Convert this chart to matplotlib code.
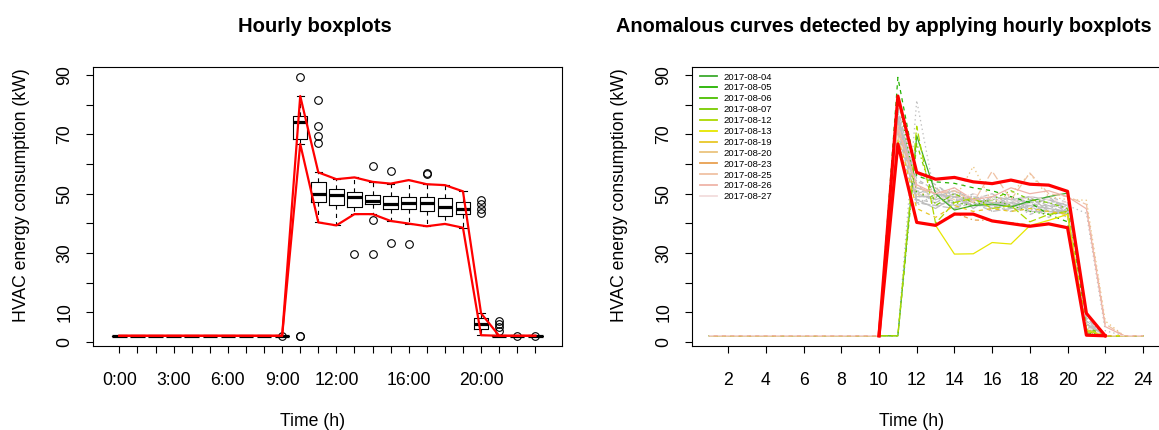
import matplotlib
matplotlib.use("Agg")
import matplotlib.pyplot as plt
from matplotlib.lines import Line2D

plt.rcParams['font.family'] = ['Liberation Sans', 'DejaVu Sans']
plt.rcParams['lines.scale_dashes'] = False

# hourly boxplot statistics of HVAC consumption (kW), hours 0..23
hours = list(range(24))
label_hours = [0, 3, 6, 9, 12, 16, 20]
hour_labels = ["0:00", "3:00", "6:00", "9:00", "12:00", "16:00", "20:00"]

q1 = [2, 2, 2, 2, 2, 2, 2, 2, 2, 2, 68.5, 47.3, 46.3, 45.4, 46.4, 44.9, 44.8, 44.0, 42.5, 43.1, 4.2, 2, 2, 2]
med = [2, 2, 2, 2, 2, 2, 2, 2, 2, 2, 74.1, 49.9, 49.6, 48.8, 47.5, 46.4, 46.9, 46.8, 45.6, 44.7, 6.0, 2, 2, 2]
q3 = [2, 2, 2, 2, 2, 2, 2, 2, 2, 2, 76.4, 54.1, 51.6, 50.5, 49.5, 49.3, 48.8, 48.9, 48.7, 47.2, 7.9, 2, 2, 2]
whislo = [2, 2, 2, 2, 2, 2, 2, 2, 2, 2, 66.8, 40.3, 39.3, 43.1, 43.1, 40.8, 39.9, 39.0, 39.8, 38.5, 2.2, 2, 2, 2]
whishi = [2, 2, 2, 2, 2, 2, 2, 2, 2, 2, 83.0, 57.2, 54.9, 55.5, 54.0, 53.4, 54.6, 53.2, 52.9, 50.8, 9.6, 2, 2, 2]
outliers = [[], [], [], [], [], [], [], [], [], [2.0],
            [89.3, 2.0, 2.0], [81.5, 72.8, 69.6, 67.0], [], [29.6],
            [59.2, 41.1, 29.7], [57.6, 33.5], [33.0], [56.8, 57.0], [], [],
            [47.8, 46.4, 44.9, 43.4], [7.0, 6.0, 5.1, 3.7], [2.0], [2.0]]

# daily curves, hours 0..23
normal_days = [
    [2, 2, 2, 2, 2, 2, 2, 2, 2, 2, 76, 52, 50, 49, 48, 47, 47, 46, 45, 44, 6, 2, 2, 2],
    [2, 2, 2, 2, 2, 2, 2, 2, 2, 2, 72, 48, 47, 46, 47, 45, 46, 48, 49, 47, 7, 2, 2, 2],
    [2, 2, 2, 2, 2, 2, 2, 2, 2, 2, 2, 81.5, 48, 47, 49, 46, 48, 45, 44, 45, 5, 2, 2, 2],
    [2, 2, 2, 2, 2, 2, 2, 2, 2, 2, 78, 54, 52, 50, 49, 48, 49, 47, 43, 44, 8, 2, 2, 2],
    [2, 2, 2, 2, 2, 2, 2, 2, 2, 2, 74, 47, 46, 45, 47, 44, 45, 44, 46, 43, 4, 2, 2, 2],
    [2, 2, 2, 2, 2, 2, 2, 2, 2, 2, 71, 49, 49, 51, 48, 46, 47, 49, 48, 46, 6, 2, 2, 2],
    [2, 2, 2, 2, 2, 2, 2, 2, 2, 2, 75, 53, 48, 48, 46, 49, 45, 46, 42, 45, 9, 2, 2, 2],
    [2, 2, 2, 2, 2, 2, 2, 2, 2, 2, 68, 46, 50, 47, 49, 47, 44, 48, 47, 44, 5, 2, 2, 2],
    [2, 2, 2, 2, 2, 2, 2, 2, 2, 2, 77, 51, 47, 50, 47, 45, 48, 47, 45, 47, 7, 2, 2, 2],
    [2, 2, 2, 2, 2, 2, 2, 2, 2, 2, 73, 50, 52, 46, 48, 50, 46, 45, 49, 44, 4, 2, 2, 2],
    [2, 2, 2, 2, 2, 2, 2, 2, 2, 2, 70, 48, 45, 49, 46, 46, 49, 44, 44, 43, 6, 2, 2, 2],
    [2, 2, 2, 2, 2, 2, 2, 2, 2, 2, 76, 55, 51, 47, 50, 44, 47, 48, 46, 45, 8, 2, 2, 2],
    [2, 2, 2, 2, 2, 2, 2, 2, 2, 2, 74, 49, 49, 52, 47, 48, 45, 46, 47, 46, 5, 2, 2, 2],
    [2, 2, 2, 2, 2, 2, 2, 2, 2, 2, 72, 47, 46, 48, 49, 45, 47, 43, 45, 42, 7, 2, 2, 2],
    [2, 2, 2, 2, 2, 2, 2, 2, 2, 2, 79, 52, 50, 45, 48, 47, 46, 47, 48, 45, 6, 2, 2, 2],
    [2, 2, 2, 2, 2, 2, 2, 2, 2, 2, 75, 50, 48, 50, 45, 49, 48, 49, 44, 44, 9.6, 2, 2, 2],
    [2, 2, 2, 2, 2, 2, 2, 2, 2, 2, 67, 57, 53, 49, 47, 46, 44, 46, 46, 47, 4.5, 2, 2, 2],
    [2, 2, 2, 2, 2, 2, 2, 2, 2, 2, 73, 48, 47, 47, 48, 48, 47, 45, 43, 46, 43.4, 3.7, 2, 2],
    [2, 2, 2, 2, 2, 2, 2, 2, 2, 2, 76, 51, 50, 48, 46, 47, 46, 47, 47, 44, 5.5, 2, 2, 2],
]

anomaly_dates = ["2017-08-04", "2017-08-05", "2017-08-06", "2017-08-07",
                 "2017-08-12", "2017-08-13", "2017-08-19", "2017-08-20",
                 "2017-08-23", "2017-08-25", "2017-08-26", "2017-08-27"]
anomaly_days = [
    [2, 2, 2, 2, 2, 2, 2, 2, 2, 2, 2, 69.6, 50, 44.5, 46, 46.5, 45.5, 47.5, 49, 50.2, 4, 2, 2, 2],
    [2, 2, 2, 2, 2, 2, 2, 2, 2, 2, 89.3, 56, 54, 53.5, 52, 51, 49, 47, 43, 40.5, 3, 2, 2, 2],
    [2, 2, 2, 2, 2, 2, 2, 2, 2, 2, 83, 50, 49, 47, 46, 48, 46, 44, 43, 44, 3, 2, 2, 2],
    [2, 2, 2, 2, 2, 2, 2, 2, 2, 2, 2, 67, 46, 50, 47, 48, 51, 48, 47, 45, 5, 2, 2, 2],
    [2, 2, 2, 2, 2, 2, 2, 2, 2, 2, 2, 72.8, 40, 47, 48.5, 45, 46, 40.5, 43, 44, 3.5, 2, 2, 2],
    [2, 2, 2, 2, 2, 2, 2, 2, 2, 2, 68, 40.4, 39.3, 29.6, 29.7, 33.5, 33.0, 39.2, 41, 43, 4, 2, 2, 2],
    [2, 2, 2, 2, 2, 2, 2, 2, 2, 2, 70, 45, 42, 46, 44, 45, 44, 45, 44, 43, 4, 2, 2, 2],
    [2, 2, 2, 2, 2, 2, 2, 2, 2, 2, 71, 49, 52, 48, 59.2, 47, 50, 56.8, 49, 48, 47.8, 7.0, 2, 2],
    [2, 2, 2, 2, 2, 2, 2, 2, 2, 2, 66.8, 40.3, 39.5, 43.5, 41.1, 41, 40.2, 39.5, 40, 38.5, 3, 2, 2, 2],
    [2, 2, 2, 2, 2, 2, 2, 2, 2, 2, 73, 52, 50, 51, 47, 57.6, 48, 57.0, 50, 49, 46.4, 6.0, 2, 2],
    [2, 2, 2, 2, 2, 2, 2, 2, 2, 2, 72, 53, 50, 52, 48, 49, 52, 50, 51, 49, 44.9, 5.1, 2, 2],
    [2, 2, 2, 2, 2, 2, 2, 2, 2, 2, 70, 50, 49, 48, 50, 48, 47, 49, 48, 47, 5, 2, 2, 2],
]
anomaly_colors = ["#3DAA2E", "#24B300", "#4CBF00", "#7ACC00", "#ADD900", "#E6E600",
                  "#E8C727", "#EBC47E", "#E8A050", "#F0C2A4", "#EFB4A8", "#F2DCDC"]

# R-like line types: solid, dashed, dotted, dotdash, longdash
ltys = ['-', (0, (3, 3)), (0, (1, 2.2)), (0, (1, 2.2, 3, 2.2)), (0, (5.5, 2.2))]

W, H = 1159, 430
fig = plt.figure(figsize=(W / 100, H / 100), dpi=100)
ax1 = fig.add_axes([93 / W, 84 / H, 468.7 / W, 279 / H])
ax2 = fig.add_axes([692 / W, 84 / H, 468.3 / W, 279 / H])

# ---- left: hourly boxplots with whisker bands ----
pos = [h + 1 for h in hours]
stats = [dict(med=med[i], q1=q1[i], q3=q3[i], whislo=whislo[i], whishi=whishi[i],
              fliers=outliers[i]) for i in hours]
ax1.bxp(stats, positions=pos, widths=0.8, manage_ticks=False,
        boxprops=dict(color='black', lw=0.8),
        medianprops=dict(color='black', lw=2.3, solid_capstyle='butt'),
        whiskerprops=dict(color='black', lw=0.8, linestyle=(0, (3, 3))),
        capprops=dict(color='black', lw=0.8),
        flierprops=dict(marker='o', markerfacecolor='none', markeredgecolor='black',
                        markersize=5.5, markeredgewidth=0.8))
ax1.plot(pos, whishi, color='red', lw=1.6, zorder=5)
ax1.plot(pos, whislo, color='red', lw=1.6, zorder=5)
ax1.set_xlim(-0.46, 25.46)
ax1.set_xticks(pos, labels=[hour_labels[label_hours.index(h)] if h in label_hours else ''
                            for h in hours])

# ---- right: daily curves, thresholds only over the working hours ----
x = pos
for i, day in enumerate(normal_days):
    ax2.plot(x, day, color='#BEBEBE', lw=0.9, linestyle=ltys[i % 5])
handles = []
for i, day in enumerate(anomaly_days):
    ax2.plot(x, day, color=anomaly_colors[i], lw=0.9, linestyle=ltys[i % 5])
    handles.append(Line2D([], [], color=anomaly_colors[i], lw=1.3))
band = slice(9, 22)
ax2.plot(x[band], whishi[band], color='red', lw=2.3)
ax2.plot(x[band], whislo[band], color='red', lw=2.3)
ax2.set_xlim(0.08, 24.92)
ax2.set_xticks([2, 4, 6, 8, 10, 12, 14, 16, 18, 20, 22, 24])
ax2.legend(handles, anomaly_dates, loc='upper left', frameon=False, fontsize=6.8,
           handlelength=1.75, handletextpad=0.75, labelspacing=0.2,
           borderpad=0, borderaxespad=0,
           bbox_to_anchor=(8 / 468.3, 1 - 5.5 / 279))

for ax in (ax1, ax2):
    ax.set_ylim(-1.45, 92.8)
    ax.set_yticks(range(0, 100, 10),
                  labels=['0', '10', '', '30', '', '50', '', '70', '', '90'])
    ax.tick_params(axis='both', direction='out', length=5, width=0.8,
                   labelsize=12.7, color='black')
    ax.tick_params(axis='x', pad=14)
    ax.tick_params(axis='y', labelrotation=90, pad=9)
    for lab in ax.get_yticklabels():
        lab.set_va('center')
    for sp in ax.spines.values():
        sp.set_linewidth(0.8)

fig.text(315 / W, 1 - 27 / H, 'Hourly boxplots', ha='center', va='center',
         fontsize=14.6, fontweight='bold')
fig.text(616 / W, 1 - 27 / H, 'Anomalous curves detected by applying hourly boxplots',
         ha='left', va='center', fontsize=14.3, fontweight='bold')
fig.text(313 / W, 1 - 421 / H, 'Time (h)', ha='center', va='center', fontsize=12.7)
fig.text(912 / W, 1 - 421 / H, 'Time (h)', ha='center', va='center', fontsize=12.7)
fig.text(22 / W, 1 - 195 / H, 'HVAC energy consumption (kW)', rotation=90,
         ha='center', va='center', fontsize=12.7)
fig.text(620 / W, 1 - 195 / H, 'HVAC energy consumption (kW)', rotation=90,
         ha='center', va='center', fontsize=12.7)

fig.savefig('out.png', dpi=100)
